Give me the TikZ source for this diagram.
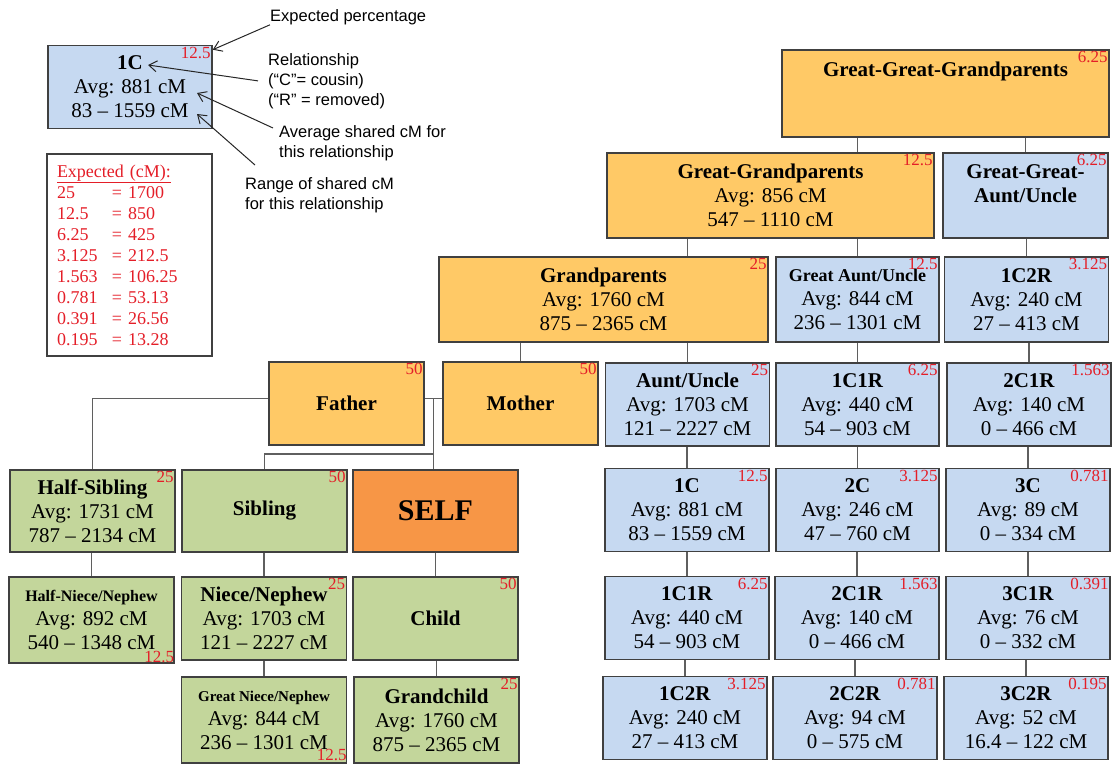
\documentclass[tikz,border=0pt]{standalone}
\usepackage{fontspec}
\setmainfont{Liberation Serif}
\newfontfamily\notefont{Liberation Sans}
\usetikzlibrary{arrows.meta,calc}
\definecolor{gpgold}{RGB}{255,201,102}
\definecolor{kinblue}{RGB}{198,217,241}
\definecolor{kidgreen}{RGB}{195,214,155}
\definecolor{selforange}{RGB}{247,150,70}
\definecolor{boxedge}{RGB}{64,64,64}
\definecolor{linkgray}{RGB}{95,95,95}
\definecolor{pctred}{RGB}{228,30,40}
\begin{document}
\begin{tikzpicture}[x=1pt, y=-1pt,
	relbox/.style={draw=boxedge, line width=1.6pt, align=center, inner sep=1pt, minimum width=164, minimum height=83, font=\fontsize{21}{24}\selectfont},
	goldbox/.style={relbox, fill=gpgold},
	bluebox/.style={relbox, fill=kinblue},
	greenbox/.style={relbox, fill=kidgreen, minimum width=165},
	pct/.style={anchor=north east, inner sep=2pt, text=pctred, font=\fontsize{17}{17}\selectfont},
	note/.style={anchor=north west, inner sep=0pt, align=left, font=\notefont\fontsize{16.5}{20}\selectfont},
	link/.style={draw=linkgray, line width=1.7pt},
	pointer/.style={draw=black!85, line width=1pt, -{Straight Barb[length=8pt,width=11pt]}}]
	\useasboundingbox (0,0) rectangle (1117,764);
	
	% Key
	\node[bluebox] (key1c) at (130,87) {\textbf{1C}\\Avg: 881 cM\\83 – 1559 cM};
	\node[draw=boxedge, line width=1.6pt, text=pctred, align=left, text width=145, inner xsep=10, minimum height=202, font=\fontsize{18}{21}\selectfont] (keyexp) at (129.5,255) {\underline{Expected (cM):}\\
		\makebox[55pt][l]{25}= 1700\\
		\makebox[55pt][l]{12.5}= 850\\
		\makebox[55pt][l]{6.25}= 425\\
		\makebox[55pt][l]{3.125}= 212.5\\
		\makebox[55pt][l]{1.563}= 106.25\\
		\makebox[55pt][l]{0.781}= 53.13\\
		\makebox[55pt][l]{0.391}= 26.56\\
		\makebox[55pt][l]{0.195}= 13.28};
	
	\node[note] (expnote) at (270,9) {Expected percentage};
	\node[note] (relnote) at (268,53) {Relationship\\(“C”= cousin)\\(“R” = removed)};
	\node[note] (avgnote) at (279,125) {Average shared cM for\\this relationship};
	\node[note] (rangenote) at (245,177) {Range of shared cM\\for this relationship};
	
	% Ancestors
	\node[goldbox, minimum width=327, minimum height=87] (gggp) at (945.5,93.5) {\textbf{Great-Great-Grandparents}\\~\\~};
	\node[goldbox, minimum width=327, minimum height=85] (ggp) at (770.5,195.5) {\textbf{Great-Grandparents}\\Avg: 856 cM\\547 – 1110 cM};
	\node[bluebox, minimum width=165, minimum height=85] (ggau) at (1025.5,195.5) {\textbf{Great-Great-}\\\textbf{Aunt/Uncle}\\~};
	\node[goldbox, minimum width=329, minimum height=85] (gp) at (603.5,299.5) {\textbf{Grandparents}\\Avg: 1760 cM\\875 – 2365 cM};
	\node[bluebox, minimum width=163, minimum height=85] (gau) at (857.5,299.5) {{\fontsize{18}{24}\selectfont\textbf{Great Aunt/Uncle}}\\Avg: 844 cM\\236 – 1301 cM};
	\node[bluebox, minimum height=85] (c1r2up) at (1026.5,299.5) {\textbf{1C2R}\\Avg: 240 cM\\27 – 413 cM};
	
	\node[goldbox, minimum width=155] (father) at (346.5,403.5) {\textbf{Father}};
	\node[goldbox, minimum width=155] (mother) at (520.5,403.5) {\textbf{Mother}};
	
	% Cousins
	\node[bluebox] (uncle) at (687.5,404.5) {\textbf{Aunt/Uncle}\\Avg: 1703 cM\\121 – 2227 cM};
	\node[bluebox, minimum width=163] (c1r1up) at (857.5,404.5) {\textbf{1C1R}\\Avg: 440 cM\\54 – 903 cM};
	\node[bluebox] (c2r1up) at (1029,404.5) {\textbf{2C1R}\\Avg: 140 cM\\0 – 466 cM};
	
	\node[bluebox] (cousin1) at (687,510) {\textbf{1C}\\Avg: 881 cM\\83 – 1559 cM};
	\node[bluebox, minimum width=163] (cousin2) at (857.5,510) {\textbf{2C}\\Avg: 246 cM\\47 – 760 cM};
	\node[bluebox] (cousin3) at (1028,510) {\textbf{3C}\\Avg: 89 cM\\0 – 334 cM};
	
	\node[bluebox] (c1r1) at (687,618) {\textbf{1C1R}\\Avg: 440 cM\\54 – 903 cM};
	\node[bluebox] (c2r1) at (857,618) {\textbf{2C1R}\\Avg: 140 cM\\0 – 466 cM};
	\node[bluebox] (c3r1) at (1028,618) {\textbf{3C1R}\\Avg: 76 cM\\0 – 332 cM};
	
	\node[bluebox] (c1r2) at (685,718) {\textbf{1C2R}\\Avg: 240 cM\\27 – 413 cM};
	\node[bluebox] (c2r2) at (855,718) {\textbf{2C2R}\\Avg: 94 cM\\0 – 575 cM};
	\node[bluebox] (c3r2) at (1026,718) {\textbf{3C2R}\\Avg: 52 cM\\16.4 – 122 cM};
	
	% Siblings and descendants
	\node[greenbox, minimum height=82] (halfsib) at (92.5,511) {\textbf{Half-Sibling}\\Avg: 1731 cM\\787 – 2134 cM};
	\node[greenbox, minimum height=82] (sib) at (264.5,511) {\textbf{Sibling}};
	\node[relbox, fill=selforange, minimum width=165, minimum height=82, font=\fontsize{30}{30}\selectfont\bfseries] (self) at (435.5,511) {SELF};
	
	\node[greenbox, minimum height=86] (halfniece) at (91.5,620) {{\fontsize{16}{24}\selectfont\textbf{Half-Niece/Nephew}}\\Avg: 892 cM\\540 – 1348 cM};
	\node[greenbox] (niece) at (264,618.5) {\textbf{Niece/Nephew}\\Avg: 1703 cM\\121 – 2227 cM};
	\node[greenbox] (child) at (435.5,618.5) {\textbf{Child}};
	
	\node[greenbox, minimum height=86] (gniece) at (264,720) {{\fontsize{15}{24}\selectfont\textbf{Great Niece/Nephew}}\\Avg: 844 cM\\236 – 1301 cM};
	\node[greenbox, minimum height=86] (gchild) at (436.5,720) {\textbf{Grandchild}\\Avg: 1760 cM\\875 – 2365 cM};
	
	% Expected percentages
	\foreach \n/\v in {key1c/12.5, gggp/6.25, ggp/12.5, ggau/6.25, gp/25, gau/12.5, c1r2up/3.125,
		father/50, mother/50, uncle/25, c1r1up/6.25, c2r1up/1.563, halfsib/25, sib/50,
		cousin1/12.5, cousin2/3.125, cousin3/0.781, niece/25, child/50,
		c1r1/6.25, c2r1/1.563, c3r1/0.391, gchild/25, c1r2/3.125, c2r2/0.781, c3r2/0.195} {
		\node[pct] (\n-p) at (\n.north east) {\v};
	}
	\node[pct, anchor=south east, inner sep=0.5pt] (halfniece-p) at (halfniece.south east) {12.5};
	\node[pct, anchor=south east, inner sep=0.5pt] (gniece-p) at ([yshift=2pt]gniece.south east) {12.5};
	
	% connections
	\draw[link] (gggp.south -| gau.north) -- (ggp.north -| gau.north);
	\draw[link] (gggp.south -| ggau.north) -- (ggau.north);
	\draw[link] (ggp.south -| uncle.north) -- (gp.north -| uncle.north);
	\draw[link] (ggp.south -| gau.north) -- (gau.north);
	\draw[link] (gp.south -| mother.north) -- (mother.north);
	
	\foreach \a/\b in {gp/uncle, uncle/cousin1, cousin1/c1r1, c1r1/c1r2,
		gau/c1r1up, c1r1up/cousin2, cousin2/c2r1, c2r1/c2r2,
		ggau/c1r2up, c1r2up/c2r1up, c2r1up/cousin3, cousin3/c3r1, c3r1/c3r2} {
		\draw[link] (\a.south -| \b.north) -- (\b.north);
	}
	
	\draw[link] ([yshift=5pt]father.east) -- ([yshift=5pt]mother.west);
	\coordinate (fm) at ($([yshift=5pt]father.east)!0.5!([yshift=5pt]mother.west)$);
	\draw[link] (fm) -- (fm |- self.north);
	\coordinate (kids) at ($(fm |- self.north)+(0,-15)$);
	\draw[link] (kids) -| (sib.north);
	\draw[link] ([yshift=5pt]father.west) -| (halfsib.north);
	
	\foreach \a/\b in {halfsib/halfniece, sib/niece, niece/gniece, self/child, child/gchild} {
		\draw[link] (\a.south -| \b.north) -- (\b.north);
	}
	
	% Key pointers
	\coordinate (tip-pct) at ([yshift=-5pt]key1c.north east);
	\coordinate (tip-rel) at (148,65);
	\coordinate (tip-avg) at (197,93);
	\coordinate (tip-rng) at (197,114);
	\draw[pointer] (expnote.south west) -- (tip-pct);
	\draw[pointer] ([xshift=-10pt]relnote.west) -- (tip-rel);
	\draw[pointer] ([xshift=-6pt,yshift=-3pt]avgnote.north west) -- (tip-avg);
	\draw[pointer] ([xshift=10pt,yshift=12pt]rangenote.north west) -- (tip-rng);
\end{tikzpicture}
\end{document}
